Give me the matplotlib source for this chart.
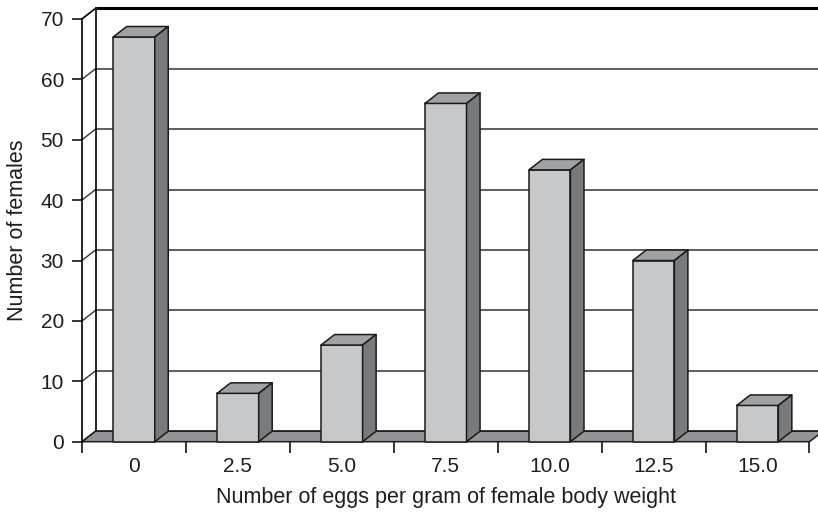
import matplotlib
matplotlib.use('Agg')
import matplotlib.pyplot as plt
from matplotlib.patches import Polygon

plt.rcParams['font.family'] = ['Liberation Sans', 'DejaVu Sans']

categorias = ['0', '2.5', '5.0', '7.5', '10.0', '12.5', '15.0']
femeas = [67, 8, 16, 56, 45, 30, 6]
yticks = [0, 10, 20, 30, 40, 50, 60, 70]

# profundidade da caixa 3D (unidades de dados) e largura das barras
DX, DY = 0.13, 1.74
LARGURA = 0.4
YMAX = 70

cor_frente = '#c7c8ca'
cor_topo = '#a0a1a4'
cor_lado = '#797a7e'
cor_piso = '#939497'
cor_texto = '#1e1e1e'

fig = plt.figure(figsize=(8.18, 5.13), dpi=100)
ax = fig.add_axes([82 / 818, 71.3 / 513, 727.5 / 818, 422.8 / 513])
n = len(categorias)
ax.set_xlim(0, n)
ax.set_ylim(0, YMAX)

def poly(pts, fc, lw=1.1, z=2):
    p = Polygon(pts, closed=True, facecolor=fc, edgecolor='#1a1a1a',
                linewidth=lw, clip_on=False, zorder=z, joinstyle='round')
    ax.add_patch(p)

# parede do fundo e parede lateral
for v in yticks[:-1]:
    ax.plot([DX, n + DX], [v + DY, v + DY], color='#333333', lw=1.1,
            clip_on=False, zorder=1)
    ax.plot([0, DX], [v, v + DY], color='#333333', lw=1.0, clip_on=False, zorder=1)
ax.plot([DX, n + DX], [YMAX + DY, YMAX + DY], color='black', lw=2.2,
        clip_on=False, zorder=1, solid_capstyle='butt')
ax.plot([0, DX], [YMAX, YMAX + DY], color='black', lw=1.2, clip_on=False, zorder=1)
ax.plot([DX, DX], [DY, YMAX + DY], color='black', lw=1.2, clip_on=False, zorder=1)

# piso
poly([(0, 0), (n, 0), (n + DX, DY), (DX, DY)], cor_piso, z=2)

# barras
for i, v in enumerate(femeas):
    x0 = i + 0.5 - LARGURA / 2
    x1 = i + 0.5 + LARGURA / 2
    poly([(x0, 0), (x1, 0), (x1, v), (x0, v)], cor_frente, z=3)
    poly([(x0, v), (x1, v), (x1 + DX, v + DY), (x0 + DX, v + DY)], cor_topo, z=3)
    poly([(x1, 0), (x1 + DX, DY), (x1 + DX, v + DY), (x1, v)], cor_lado, z=3)

for s in ['top', 'right', 'bottom']:
    ax.spines[s].set_visible(False)
ax.spines['left'].set_linewidth(1.2)
ax.spines['left'].set_zorder(4)

ax.set_yticks(yticks)
ax.tick_params(axis='y', direction='out', length=7, width=1.1, labelsize=15,
               pad=6, labelcolor=cor_texto)
ax.set_xticks(range(n + 1))
ax.set_xticklabels([])
ax.set_xticks([i + 0.5 for i in range(n)], minor=True)
ax.set_xticklabels(categorias, minor=True)
ax.tick_params(axis='x', which='major', direction='out', length=8, width=1.1)
ax.tick_params(axis='x', which='minor', length=0, labelsize=15, pad=11,
               labelcolor=cor_texto)

ax.set_xlabel('Number of eggs per gram of female body weight', fontsize=15.5,
              labelpad=8, color=cor_texto)
ax.set_ylabel('Number of females', fontsize=15.5, labelpad=9, color=cor_texto)
ax.patch.set_visible(False)

plt.savefig('out.png', dpi=100)
